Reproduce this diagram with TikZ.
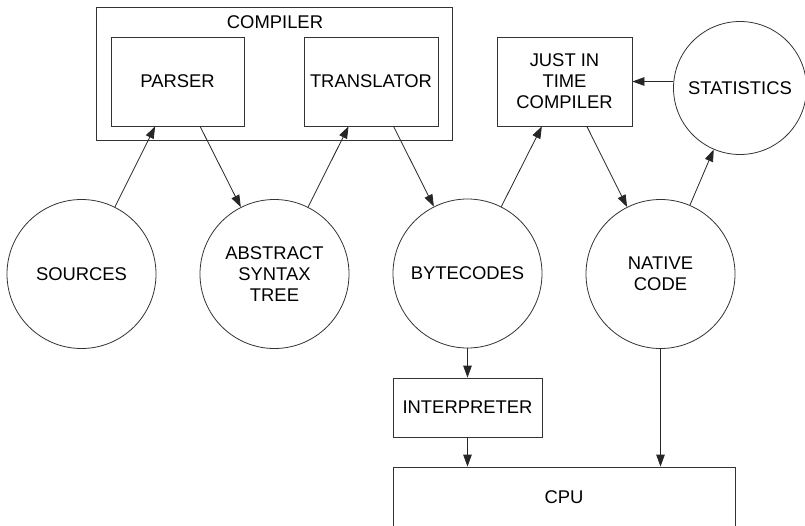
\documentclass[tikz,border=0pt]{standalone}
\usepackage{fontspec}
\setmainfont{Liberation Sans}
\usetikzlibrary{arrows.meta}
\begin{document}
\begin{tikzpicture}[x=1pt,y=-1pt,
  font=\fontsize{18.4}{21}\selectfont,
  line width=0.8pt,
  box/.style={draw=black!80, rectangle, inner sep=0pt, align=center},
  blob/.style={draw=black!80, circle, inner sep=0pt, minimum size=149pt, align=center},
  arr/.style={draw=black!85, -{Triangle[length=12pt,width=8.5pt]}}]
  \clip (0,0) rectangle (805,525);
  \fill[white] (0,0) rectangle (805,525);

  % compiler with its two stages
  \node[box, minimum width=356pt, minimum height=133pt] (compiler) at (274,73.5) {};
  \node (compilertitle) at (275,22) {COMPILER};
  \node[box, minimum width=133pt, minimum height=89pt] (parser) at (177.5,81.5) {PARSER};
  \node[box, minimum width=134pt, minimum height=89pt] (translator) at (371,81.5) {TRANSLATOR};

  % runtime boxes
  \node[box, minimum width=135pt, minimum height=89pt] (jit) at (564.5,81.5) {JUST IN\\TIME\\COMPILER};
  \node[blob, minimum size=133pt] (stats) at (740,88) {STATISTICS};

  % data representations
  \node[blob] (sources) at (81.5,274) {SOURCES};
  \node[blob] (ast) at (274.5,274) {ABSTRACT\\SYNTAX\\TREE};
  \node[blob] (bytecodes) at (467.5,273.5) {BYTECODES};
  \node[blob] (native) at (660.5,274) {NATIVE\\CODE};

  \node[box, minimum width=149pt, minimum height=59pt] (interp) at (467.5,407.5) {INTERPRETER};
  \node[box, minimum width=342pt, minimum height=60pt] (cpu) at (564,497) {CPU};

  % flow
  \draw[arr] (sources) -- (parser);
  \draw[arr] (parser) -- (ast);
  \draw[arr] (ast) -- (translator);
  \draw[arr] (translator) -- (bytecodes);
  \draw[arr] (bytecodes) -- (jit);
  \draw[arr] (jit) -- (native);
  \draw[arr] (native) -- (stats);
  \draw[arr] (stats.west |- jit.center) -- (jit.east);
  \draw[arr] (bytecodes.south) -- (interp.north);
  \draw[arr] (interp.south) -- (interp.south |- cpu.north);
  \draw[arr] (native.south) -- (native.south |- cpu.north);
\end{tikzpicture}
\end{document}
